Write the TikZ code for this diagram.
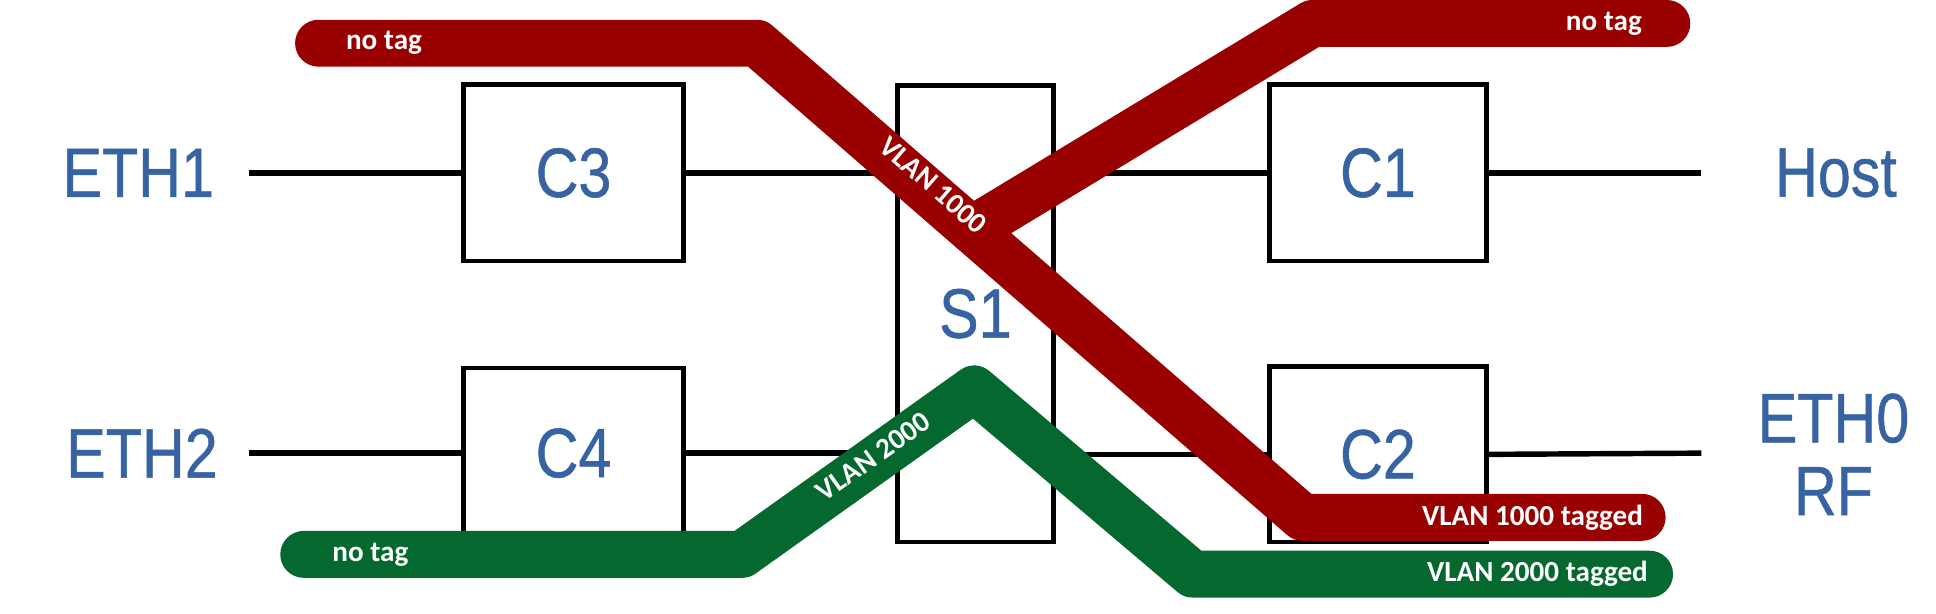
\documentclass[tikz,border=0pt]{standalone}
\usepackage{fontspec}
\setmainfont{Liberation Sans}
\newfontfamily\portfont[FakeBold=0.8]{Liberation Sans}
\newfontfamily\bandfont{Carlito}
\definecolor{vred}{HTML}{990000}
\definecolor{vgreen}{HTML}{04682F}
\definecolor{lblue}{HTML}{3763A2}
\newcommand\vtall[1]{\scalebox{1}[1.18]{#1}}
\begin{document}
\begin{tikzpicture}[x=0.5pt,y=-0.5pt,
  box/.style={draw, line width=1.9pt, fill=white, inner sep=0pt, text=lblue, font=\portfont\fontsize{24}{28}\selectfont},
  port/.style={text=lblue, font=\portfont\fontsize{24}{29.5}\selectfont, inner sep=0pt},
  wire/.style={line width=2.2pt},
  band/.style={line width=19pt, line cap=round, line join=round},
  tag/.style={text=white, font=\bandfont\bfseries\fontsize{11.8}{13}\selectfont, inner sep=0pt}]
\useasboundingbox (0,0) rectangle (1568,497);
% ports
\node[port] (eth1) at (112,140) {\vtall{ETH1}};
\node[port] (eth2) at (115,367) {\vtall{ETH2}};
\node[port] (host) at (1487,140) {\vtall{Host}};
\node[port, align=center] (eth0) at (1485,368) {\vtall{ETH0}\\\vtall{RF}};
% boxes
\node[box, minimum width=89pt, minimum height=71.5pt] (c3) at (464.5,140) {\vtall{C3}};
\node[box, minimum width=89pt, minimum height=69pt] (c4) at (464.5,367) {\vtall{C4}};
\node[box, minimum width=88pt, minimum height=71.5pt] (c1) at (1116,140) {\vtall{C1}};
\node[box, minimum width=88pt, minimum height=71pt] (c2) at (1116,368) {\vtall{C2}};
\node[box, minimum width=63pt, minimum height=185pt] (s1) at (790,254) {\vtall{S1}};
% wires
\coordinate (w1) at (202,140);
\coordinate (w2) at (1378,140);
\coordinate (w3) at (202,367);
\coordinate (w4) at (1378,367);
\draw[wire] (w1) -- (c3.west);
\draw[wire] (c3.east) -- (c3.east -| s1.west);
\draw[wire] (s1.east |- c1.west) -- (c1.west);
\draw[wire] (c1.east) -- (w2);
\draw[wire] (w3) -- (c4.west);
\draw[wire] (c4.east) -- (c4.east -| s1.west);
\draw[wire] (s1.east |- c2.west) -- (c2.west);
\draw[wire] (c2.east) -- (w4);
% bands
\coordinate (g1) at (246,449);
\coordinate (g2) at (601,449);
\coordinate (g3) at (789,315);
\coordinate (g4) at (966,465);
\coordinate (g5) at (1336,465);
\draw[band, vgreen] (g1) -- (g2) -- (g3) -- (g4) -- (g5);
\coordinate (r1a) at (258,35);
\coordinate (r1b) at (613,35);
\coordinate (r1c) at (1055,419);
\coordinate (r1d) at (1330,419);
\draw[band, vred] (r1a) -- (r1b) -- (r1c) -- (r1d);
\coordinate (r2a) at (787,186);
\coordinate (r2b) at (1063,19);
\coordinate (r2c) at (1350,19);
\draw[band, vred] (r2a) -- (r2b) -- (r2c);
% tags
\node[tag] (t1) at (311,35) {no tag};
\node[tag] (t2) at (1299,19) {no tag};
\node[tag, anchor=east] (t3) at (1331,419) {VLAN 1000 tagged};
\node[tag, anchor=east] (t4) at (1335,465) {VLAN 2000 tagged};
\node[tag] (t5) at (300,449) {no tag};
\node[tag, rotate=-41] (t6) at (756,150) {VLAN 1000};
\node[tag, rotate=35.5] (t7) at (707,370) {VLAN 2000};
\end{tikzpicture}
\end{document}
